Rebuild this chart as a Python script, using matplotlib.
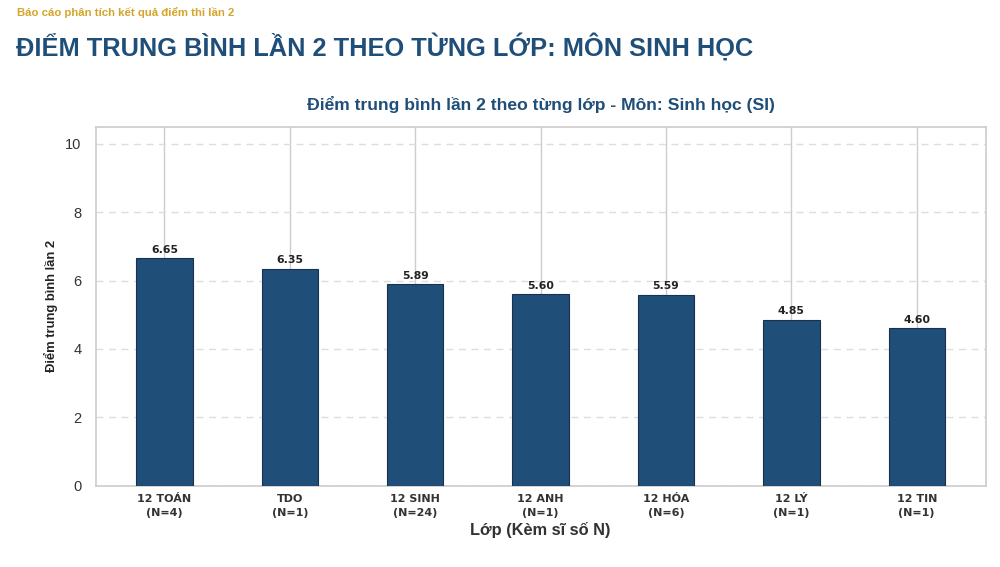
import matplotlib
matplotlib.use("Agg")
import matplotlib.pyplot as plt
import numpy as np

plt.rcParams['font.family'] = ['Liberation Sans', 'DejaVu Sans']

# dữ liệu
classes = ['12 TOÁN', 'TDO', '12 SINH', '12 ANH', '12 HÓA', '12 LÝ', '12 TIN']
counts = [4, 1, 24, 1, 6, 1, 1]
scores = [6.65, 6.35, 5.89, 5.60, 5.59, 4.85, 4.60]
yticks = [0, 2, 4, 6, 8, 10]

BLUE = '#1f4e79'
GOLD = '#d4a52a'


def fit_width(txt, target_px, renderer, vertical=False):
    # chỉnh cỡ chữ cho vừa chiều rộng mong muốn
    bb = txt.get_window_extent(renderer=renderer)
    w = bb.height if vertical else bb.width
    txt.set_fontsize(txt.get_fontsize() * target_px / w)


fig = plt.figure(figsize=(10, 5.67), dpi=100)
ax = fig.add_axes([0.0955, 0.1434, 0.8902, 0.6331])

x = np.arange(len(classes))
ax.bar(x, scores, width=0.45, color=BLUE, edgecolor='#16324f', linewidth=0.8, zorder=3)
for xi, v in zip(x, scores):
    ax.annotate(f"{v:.2f}", (xi, v), xytext=(0, 2.5), textcoords='offset points',
                ha='center', va='bottom', fontsize=7.8, fontweight='bold', color='#222222',
                family='DejaVu Sans', zorder=4)

ax.set_xlim(-0.55, len(classes) - 0.45)
ax.set_ylim(0, 10.5)
ax.set_yticks(yticks)
ax.set_xticks(x)
ax.set_xticklabels([f"{c}\n(N={n})" for c, n in zip(classes, counts)],
                   fontsize=8, fontweight='bold', color='#333333', linespacing=1.45,
                   family='DejaVu Sans')
ax.tick_params(axis='y', labelsize=10.5, colors='#333333', length=0, pad=10)
ax.tick_params(axis='x', length=0, pad=6)

ax.grid(axis='x', color='#cccccc', linewidth=1, linestyle='-', zorder=0)
ax.grid(axis='y', color='#dddddd', linewidth=1, linestyle=(0, (5, 4)), zorder=0)
for s in ax.spines.values():
    s.set_color('#cccccc')
    s.set_linewidth(1.2)

ylab = ax.set_ylabel('Điểm trung bình lần 2', fontsize=10, fontweight='bold', color='#222222',
                     labelpad=5)
xlab = ax.set_xlabel('Lớp (Kèm sĩ số N)', fontsize=11, fontweight='bold', color='#333333',
                     labelpad=3)
title = ax.set_title('Điểm trung bình lần 2 theo từng lớp - Môn: Sinh học (SI)',
                     fontsize=11.5, fontweight='bold', color=BLUE, pad=12)

sub = fig.text(0.017, 0.978, 'Báo cáo phân tích kết quả điểm thi lần 2',
               fontsize=8, fontweight='bold', color=GOLD, ha='left', va='center')
head = fig.text(0.016, 0.918, 'ĐIỂM TRUNG BÌNH LẦN 2 THEO TỪNG LỚP: MÔN SINH HỌC',
                fontsize=20, fontweight='bold', color=BLUE, ha='left', va='center')

r = fig.canvas.get_renderer()
fit_width(sub, 219, r)
fit_width(head, 738, r)
fit_width(title, 471, r)
fit_width(xlab, 141, r)
fit_width(ylab, 133, r, vertical=True)

fig.savefig('out.png', dpi=100, facecolor='white')
